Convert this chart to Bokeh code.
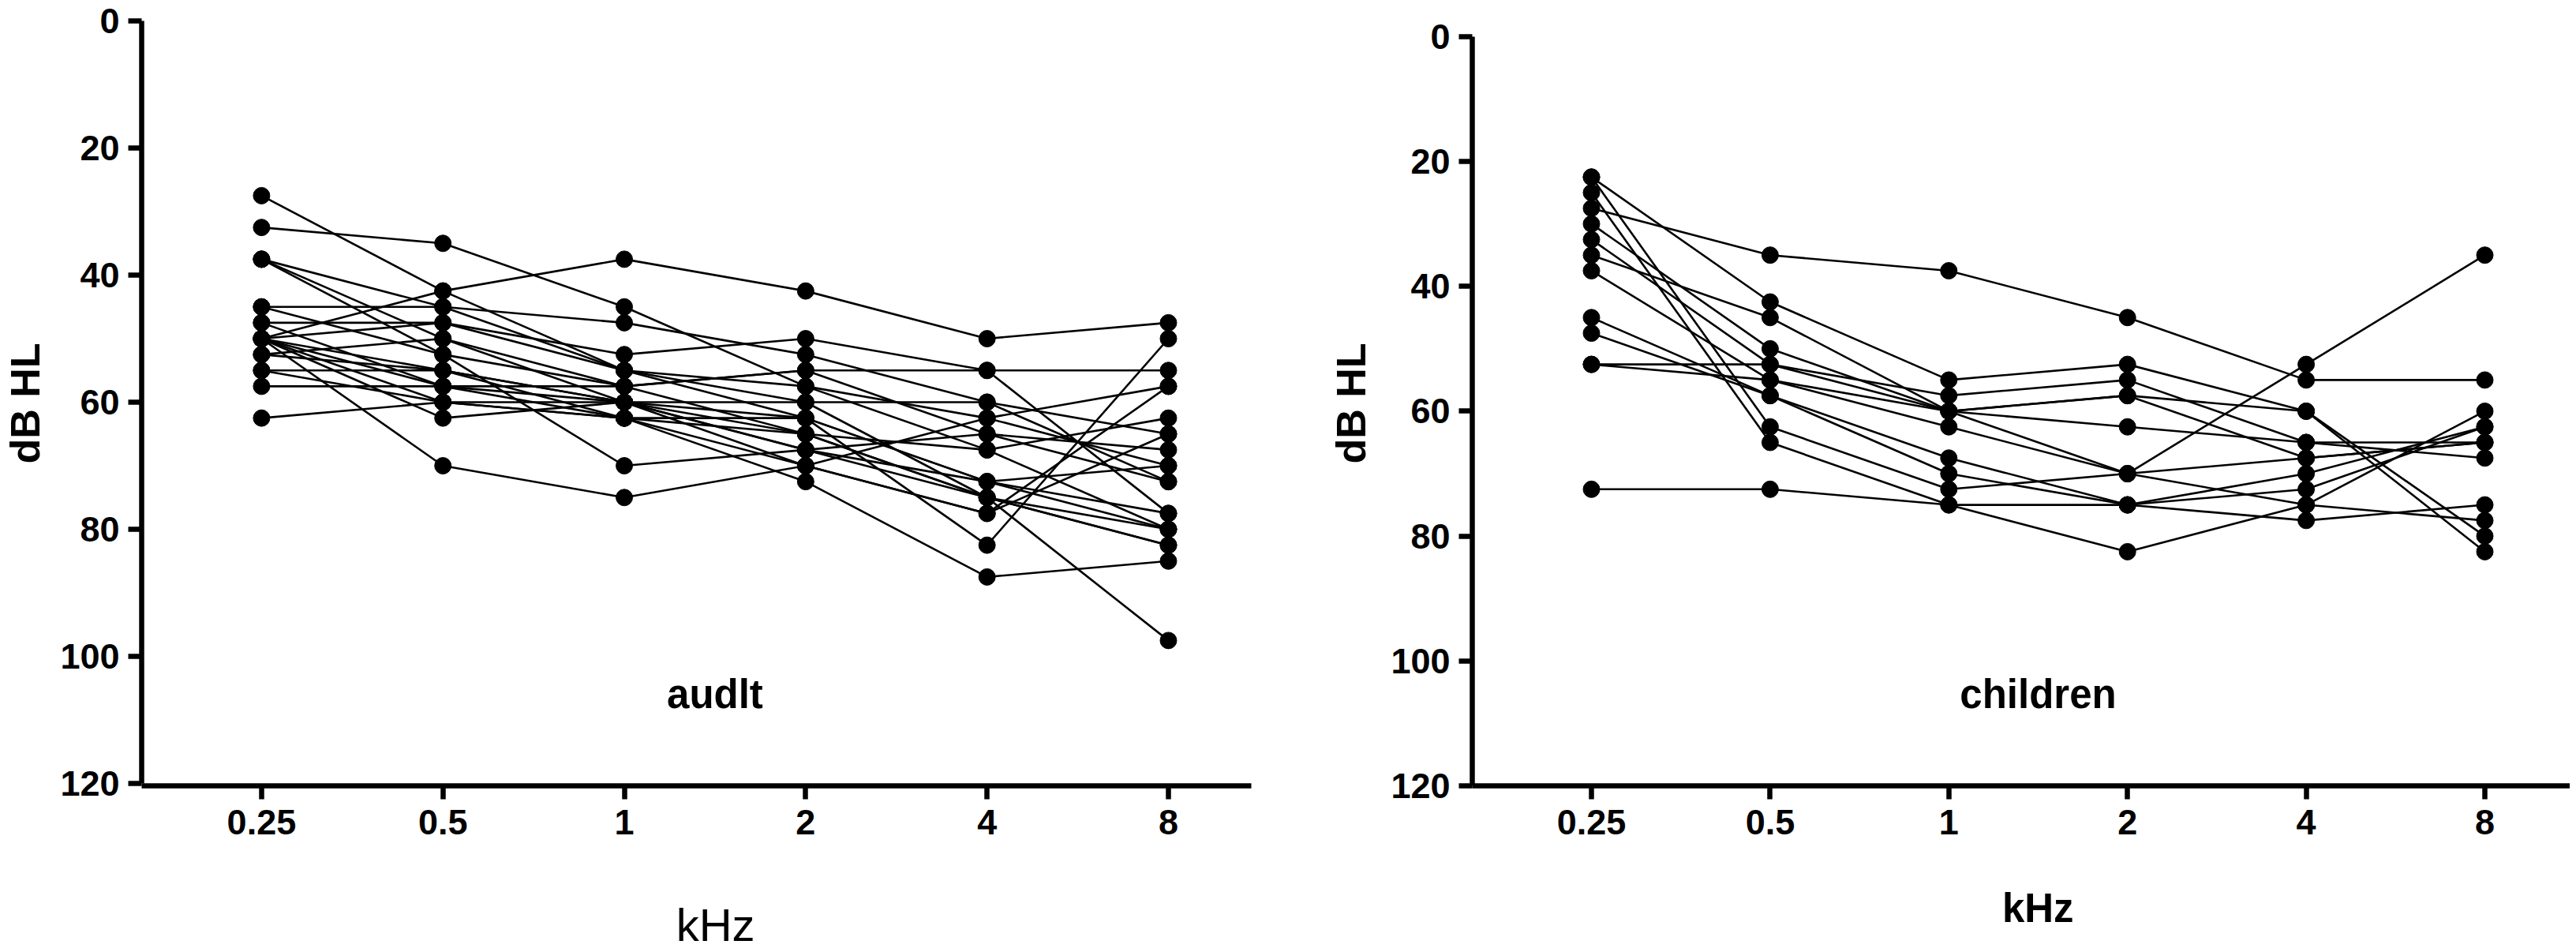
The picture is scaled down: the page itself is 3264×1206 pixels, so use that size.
from bokeh.plotting import figure
from bokeh.models import Range1d, FixedTicker, Label
from bokeh.layouts import row
from bokeh.embed import file_html
from bokeh.resources import INLINE

# ---------------- data ----------------
freq_labels = ["0.25", "0.5", "1", "2", "4", "8"]
y_ticks = [0, 20, 40, 60, 80, 100, 120]

adult_01 = [50, 42.5, 37.5, 42.5, 50, 47.5]
adult_02 = [32.5, 35, 45, 57.5, 67.5, 80]
adult_03 = [27.5, 42.5, 55, 60, 75, 82.5]
adult_04 = [45, 45, 47.5, 52.5, 60, 72.5]
adult_05 = [50, 47.5, 52.5, 50, 55, 55]
adult_06 = [37.5, 45, 55, 57.5, 62.5, 70]
adult_07 = [37.5, 50, 57.5, 55, 55, 77.5]
adult_08 = [37.5, 52.5, 70, 67.5, 65, 67.5]
adult_09 = [50, 70, 75, 70, 62.5, 57.5]
adult_10 = [62.5, 60, 60, 60, 60, 65]
adult_11 = [57.5, 57.5, 57.5, 55, 65, 72.5]
adult_12 = [47.5, 47.5, 55, 62.5, 72.5, 70]
adult_13 = [50, 55, 60, 65, 75, 80]
adult_14 = [50, 57.5, 62.5, 62.5, 82.5, 50]
adult_15 = [52.5, 55, 62.5, 72.5, 87.5, 85]
adult_16 = [55, 60, 62.5, 70, 77.5, 57.5]
adult_17 = [50, 62.5, 60, 67.5, 75, 82.5]
adult_18 = [45, 52.5, 57.5, 65, 67.5, 62.5]
adult_19 = [50, 60, 62.5, 65, 75, 97.5]
adult_20 = [55, 55, 60, 67.5, 72.5, 77.5]
adult_21 = [52.5, 50, 60, 70, 77.5, 65]
adult_22 = [47.5, 57.5, 60, 62.5, 72.5, 80]

child_01 = [27.5, 35, 37.5, 45, 55, 55]
child_02 = [72.5, 72.5, 75, 75, 72.5, 62.5]
child_03 = [22.5, 62.5, 72.5, 70, 52.5, 35]
child_04 = [25, 65, 75, 82.5, 75, 60]
child_05 = [22.5, 42.5, 55, 52.5, 60, 82.5]
child_06 = [30, 50, 60, 57.5, 60, 80]
child_07 = [32.5, 52.5, 57.5, 55, 65, 65]
child_08 = [35, 45, 60, 62.5, 65, 67.5]
child_09 = [37.5, 55, 62.5, 70, 75, 77.5]
child_10 = [45, 57.5, 67.5, 75, 77.5, 75]
child_11 = [47.5, 57.5, 70, 75, 70, 62.5]
child_12 = [52.5, 52.5, 60, 70, 67.5, 65]
child_13 = [52.5, 55, 60, 57.5, 67.5, 65]

adults = [adult_01, adult_02, adult_03, adult_04, adult_05, adult_06, adult_07,
          adult_08, adult_09, adult_10, adult_11, adult_12, adult_13, adult_14,
          adult_15, adult_16, adult_17, adult_18, adult_19, adult_20, adult_21,
          adult_22]
children = [child_01, child_02, child_03, child_04, child_05, child_06, child_07,
            child_08, child_09, child_10, child_11, child_12, child_13]

FONT = "Liberation Sans"
NB = "\u00a0"
xpos = list(range(len(freq_labels)))

H = 1206
TOP = 26          # shared frame top (rows align the frames)
BOTTOM = 1001     # shared frame bottom


def make_panel(series, name, name_y, width, bl, br, xr, yr,
               ylab_standoff, xlab, xlab_style, xlab_size, xlab_standoff):
    p = figure(width=width, height=H, output_backend="svg",
               toolbar_location=None, title=None,
               x_range=Range1d(*xr), y_range=Range1d(*yr),
               min_border_left=bl, min_border_right=br,
               min_border_top=TOP, min_border_bottom=H - BOTTOM)
    p.outline_line_color = None
    p.xgrid.visible = False
    p.ygrid.visible = False
    p.background_fill_color = "white"
    p.border_fill_color = "white"

    for s in series:
        p.line(xpos, s, line_color="black", line_width=2.6)
        p.scatter(xpos, s, size=21, fill_color="black", line_color="black")

    for ax in (p.xaxis[0], p.yaxis[0]):
        ax.axis_line_width = 6.5
        ax.major_tick_line_width = 6.5
        ax.major_tick_out = 17
        ax.major_tick_in = 0
        ax.minor_tick_line_color = None
        ax.major_label_text_font = FONT
        ax.major_label_text_font_style = "bold"
        ax.major_label_text_font_size = "45px"
        ax.major_label_text_color = "black"
        ax.axis_line_color = "black"
        ax.major_tick_line_color = "black"
        ax.axis_label_text_font = FONT
        ax.axis_label_text_color = "black"

    yax = p.yaxis[0]
    yax.ticker = FixedTicker(ticks=y_ticks)
    yax.bounds = (0, 120)
    yax.major_label_standoff = 11
    yax.axis_label = "dB HL"
    yax.axis_label_text_font_style = "bold"
    yax.axis_label_text_font_size = "52px"
    yax.axis_label_standoff = ylab_standoff

    xax = p.xaxis[0]
    xax.ticker = FixedTicker(ticks=xpos)
    xax.major_label_overrides = {i: t for i, t in enumerate(freq_labels)}
    xax.major_label_standoff = 13
    xax.axis_label = xlab
    xax.axis_label_text_font_style = xlab_style
    xax.axis_label_text_font_size = xlab_size
    xax.axis_label_standoff = xlab_standoff

    p.add_layout(Label(x=2.5, y=name_y, text=name,
                       text_font=FONT, text_font_style="bold",
                       text_font_size="51px", text_align="center",
                       text_baseline="alphabetic", text_color="black"))
    return p


# left: 0 dB at frame top, 120 dB at y=998
left_px = (998 - TOP) / 120.0
left_bottom_val = 120 + (BOTTOM - 998) / left_px
# right: 0 dB at y=46, 120 dB at frame bottom
right_px = (BOTTOM - 46) / 120.0
right_top_val = -(46 - TOP) / right_px

p1 = make_panel(adults, "audlt", 105.9, 1670, 179, 85,
                (-0.661, 5.457), (left_bottom_val, 0), 12,
                NB * 3 + "kHz", "normal", "58px", 79)
p2 = make_panel(children, "children", 105.3, 1586, 195, 0,
                (-0.667, 5.477), (120, right_top_val), 18,
                NB * 3 + "kHz", "bold", "51px", 62)

layout = row(p1, p2)
open("out.html", "w").write(file_html(layout, INLINE))
